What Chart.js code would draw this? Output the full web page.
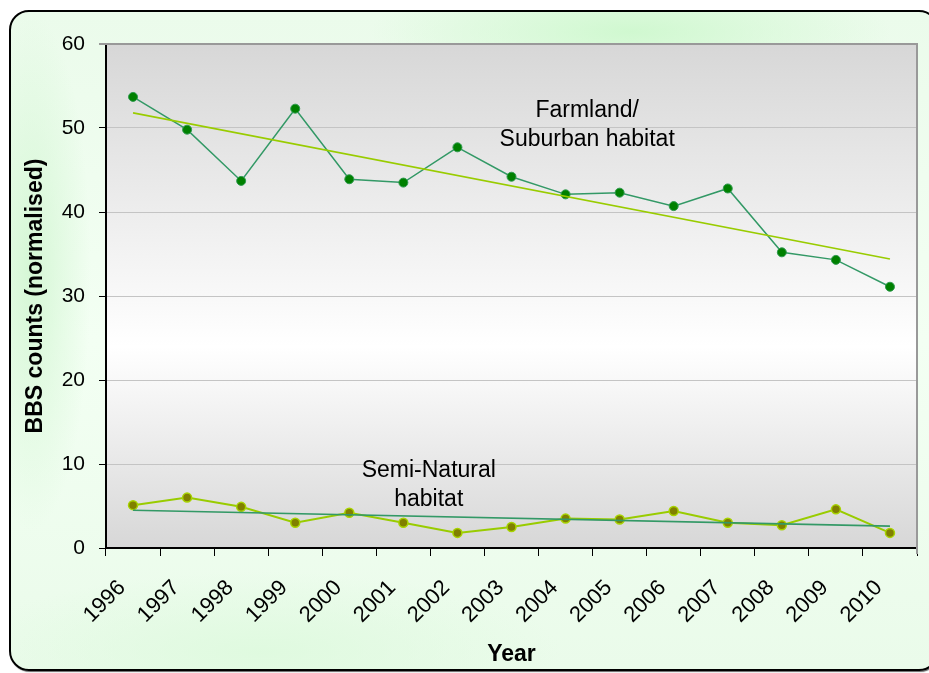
<!DOCTYPE html>
<html lang="en">
<head>
<meta charset="utf-8">
<title>BBS counts by habitat</title>
<script src="https://cdn.jsdelivr.net/npm/chart.js@4.4.1/dist/chart.umd.min.js"></script>
<style>
    html, body{
        margin: 0;
        padding: 0;
        overflow: hidden;
        background: #ffffff;
    }

    .frame{
        position: fixed;
        left: 9px;
        top: 10px;
        width: 926px;
        height: 657px;
        border: 2px solid #000;
        border-radius: 20px;
        box-shadow: 1px 1px 1px rgba(0,0,0,0.6);
        background:
            radial-gradient(ellipse 260px 60px at 620px 20px, rgba(205,248,205,0.9), rgba(205,248,205,0)),
            radial-gradient(ellipse 60px 260px at 20px 260px, rgba(210,246,210,0.9), rgba(210,246,210,0)),
            radial-gradient(ellipse 300px 80px at 250px 640px, rgba(222,250,222,0.9), rgba(222,250,222,0)),
            linear-gradient(180deg, #ebfbeb 0%, #f3fff3 50%, #eafbea 100%);
    }

    #bbsChart{
        position: fixed;
        left: 0;
        top: 0;
    }
</style>
</head>
<body>

<div class="frame"></div>
<canvas id="bbsChart" width="929" height="673"></canvas>

<script>
/* =========================
   DATA
========================= */

const years = [
    "1996", "1997", "1998", "1999", "2000",
    "2001", "2002", "2003", "2004", "2005",
    "2006", "2007", "2008", "2009", "2010"
];

const farmland = [
    53.7, 49.8, 43.7, 52.3, 43.9,
    43.5, 47.7, 44.2, 42.1, 42.3,
    40.7, 42.8, 35.2, 34.3, 31.1
];

const semiNatural = [
    5.1, 6.0, 4.9, 3.0, 4.2,
    3.0, 1.8, 2.5, 3.5, 3.4,
    4.4, 3.0, 2.7, 4.6, 1.8
];

// linear trend, first and last year
const farmlandTrend = [51.8, 34.4];
const semiNaturalTrend = [4.5, 2.6];

const yMin = 0;
const yMax = 60;
const yStep = 10;

/* =========================
   HELPERS
========================= */

function trendSeries(ends){

    const out = years.map(() => null);

    out[0] = ends[0];
    out[out.length - 1] = ends[1];

    return out;

}

/* plot background + frame */
const plotArea = {

    id: "plotArea",

    beforeDraw(chart){

        const {ctx, chartArea} = chart;
        const {left, top, right, bottom} = chartArea;

        const grad = ctx.createLinearGradient(0, top, 0, bottom);
        grad.addColorStop(0, "#d7d7d7");
        grad.addColorStop(0.6, "#ffffff");
        grad.addColorStop(1, "#d7d7d7");

        ctx.save();
        ctx.fillStyle = grad;
        ctx.fillRect(left, top, right - left, bottom - top);
        ctx.restore();

    },

    afterDraw(chart){

        const {ctx, chartArea} = chart;
        const {left, top, right, bottom} = chartArea;

        ctx.save();
        ctx.strokeStyle = "#999999";
        ctx.lineWidth = 2;
        ctx.beginPath();
        ctx.moveTo(left - 7, top);
        ctx.lineTo(right, top);
        ctx.lineTo(right, bottom + 6);
        ctx.stroke();
        ctx.restore();

    }

};

/* text labels placed in data space */
const habitatLabels = {

    id: "habitatLabels",

    afterDatasetsDraw(chart, args, opts){

        const {ctx, scales} = chart;

        ctx.save();
        ctx.fillStyle = "#000";
        ctx.font = opts.font;
        ctx.textAlign = "center";
        ctx.textBaseline = "alphabetic";

        opts.items.forEach(item => {

            const x = scales.x.getPixelForValue(item.x);
            const y = scales.y.getPixelForValue(item.y);

            item.lines.forEach((line, i) => {
                ctx.fillText(line, x, y + i * opts.lineHeight);
            });

        });

        ctx.restore();

    }

};

/* =========================
   CHART
========================= */

document.addEventListener("DOMContentLoaded", () => {

    initChart();

});

function initChart(){

    const ctx = document.getElementById("bbsChart");

    new Chart(ctx, {

        type: "line",

        data: {

            labels: years,

            datasets: [

                {
                    label: "Farmland trend",
                    data: trendSeries(farmlandTrend),
                    borderColor: "#99cc00",
                    borderWidth: 1.6,
                    pointRadius: 0,
                    spanGaps: true
                },

                {
                    label: "Semi-Natural trend",
                    data: trendSeries(semiNaturalTrend),
                    borderColor: "#339966",
                    borderWidth: 1.6,
                    pointRadius: 0,
                    spanGaps: true
                },

                {
                    label: "Farmland/Suburban",
                    data: farmland,
                    borderColor: "#339966",
                    borderWidth: 1.5,
                    pointRadius: 4.5,
                    pointBackgroundColor: "#008000",
                    pointBorderColor: "#2e9a4e",
                    pointBorderWidth: 1
                },

                {
                    label: "Semi-Natural",
                    data: semiNatural,
                    borderColor: "#99cc00",
                    borderWidth: 2,
                    pointRadius: 4.5,
                    pointBackgroundColor: "#808000",
                    pointBorderColor: "#a8d400",
                    pointBorderWidth: 1.5
                }

            ]

        },

        options: {

            responsive: false,
            animation: false,
            devicePixelRatio: 1,

            layout: {
                padding: { top: 44, right: 12, bottom: 0, left: 0 }
            },

            plugins: {

                legend: { display: false },
                tooltip: { enabled: false },

                habitatLabels: {
                    font: "23px 'Liberation Sans', Arial, sans-serif",
                    lineHeight: 29,
                    items: [
                        { lines: ["Farmland/", "Suburban habitat"], x: 8.4, y: 51.3 },
                        { lines: ["Semi-Natural", "habitat"], x: 5.47, y: 8.5 }
                    ]
                }

            },

            scales: {

                x: {
                    offset: true,
                    afterFit(scale){ scale.height = 125; },
                    grid: {
                        offset: true,
                        drawOnChartArea: false,
                        tickLength: 8,
                        tickColor: "#000",
                        tickWidth: 1
                    },
                    border: { color: "#000", width: 2 },
                    ticks: {
                        minRotation: 45,
                        maxRotation: 45,
                        autoSkip: false,
                        padding: 19,
                        labelOffset: -11,
                        color: "#000",
                        font: { family: "'Liberation Sans', Arial, sans-serif", size: 22 }
                    },
                    title: {
                        display: true,
                        text: "Year",
                        color: "#000",
                        padding: { top: 0, bottom: 5 },
                        font: { family: "'Liberation Sans', Arial, sans-serif", size: 23, weight: "bold" }
                    }
                },

                y: {
                    min: yMin,
                    max: yMax,
                    afterFit(scale){ scale.width = 106; },
                    grid: {
                        color: "#c4c4c4",
                        lineWidth: 1,
                        tickLength: 7,
                        tickColor: "#000"
                    },
                    border: { color: "#000", width: 2 },
                    ticks: {
                        stepSize: yStep,
                        padding: 14,
                        color: "#000",
                        font: { family: "'Liberation Sans', Arial, sans-serif", size: 21 }
                    },
                    title: {
                        display: true,
                        text: "BBS counts (normalised)",
                        color: "#000",
                        padding: { top: 22, bottom: 0 },
                        font: { family: "'Liberation Sans', Arial, sans-serif", size: 23, weight: "bold" }
                    }
                }

            }

        },

        plugins: [plotArea, habitatLabels]

    });

}
</script>

</body>
</html>
